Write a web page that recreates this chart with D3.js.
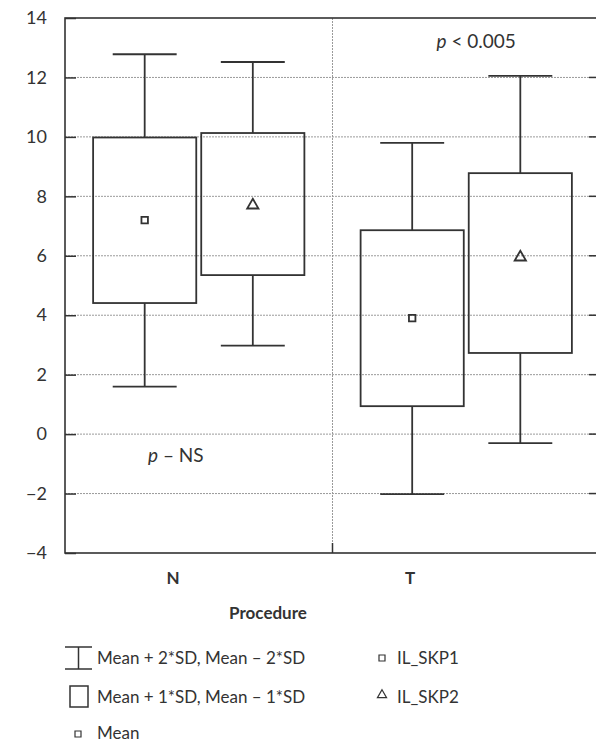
<!DOCTYPE html>
<html>
<head>
<meta charset="utf-8">
<script src="https://cdn.jsdelivr.net/npm/d3@7"></script>
<style>
  html, body { margin: 0; padding: 0; background: #fff; }
  svg { display: block; }
  text { font-family: Lato, "Open Sans", sans-serif; fill: #333; }
</style>
</head>
<body>
<svg id="chart" width="596" height="742"></svg>
<script>
// Procedure groups and the two series plotted in each
const procedures = ["N", "T"];
const seriesNames = ["IL_SKP1", "IL_SKP2"];

// Per procedure, per series: mean, mean ± 1 SD, mean ± 2 SD
const meanValues = { N: [7.2, 7.7],   T: [3.9, 5.95] };
const sd1Low     = { N: [4.41, 5.35], T: [0.94, 2.73] };
const sd1High    = { N: [9.98, 10.13], T: [6.86, 8.78] };
const sd2Low     = { N: [1.6, 2.98],  T: [-2.02, -0.3] };
const sd2High    = { N: [12.78, 12.52], T: [9.8, 12.05] };

const yTicks = [14, 12, 10, 8, 6, 4, 2, 0, -2, -4];
const pLabels = { N: "NS", T: "< 0.005" };

const svg = d3.select("#chart");
const ink = "#333";
const fs = 17;

const plot = { left: 65, top: 18, right: 600, bottom: 553 };

const y = d3.scaleLinear().domain([-4, 14]).range([plot.bottom, plot.top]);
const xGroup = d3.scaleBand().domain(procedures).range([plot.left, plot.right]);
const xSeries = d3.scaleBand().domain(seriesNames)
  .range([0, xGroup.bandwidth()]).paddingInner(0.046).paddingOuter(0.26);
const bw = xSeries.bandwidth();
const capW = bw * 0.62;

// Dotted grid lines
svg.append("g").selectAll("line")
  .data(yTicks.filter(t => t > -4 && t < 14))
  .join("line")
  .attr("x1", plot.left).attr("x2", plot.right)
  .attr("y1", d => y(d)).attr("y2", d => y(d))
  .attr("stroke", "#9a9a9a").attr("stroke-width", 1)
  .attr("stroke-dasharray", "2,1");

// Dotted divider between procedures
svg.append("line")
  .attr("x1", xGroup("T")).attr("x2", xGroup("T"))
  .attr("y1", plot.top).attr("y2", plot.bottom)
  .attr("stroke", "#9a9a9a").attr("stroke-width", 1)
  .attr("stroke-dasharray", "2,1");
svg.append("line")
  .attr("x1", xGroup("T")).attr("x2", xGroup("T"))
  .attr("y1", plot.bottom - 10).attr("y2", plot.bottom)
  .attr("stroke", ink).attr("stroke-width", 1.5);

// Y axis, ticks pointing inward
const yAxis = d3.axisLeft(y).tickValues(yTicks).tickSizeInner(-11).tickSizeOuter(0)
  .tickPadding(18).tickFormat(d => d < 0 ? "\u2212" + Math.abs(d) : d);
const gy = svg.append("g").attr("transform", `translate(${plot.left},0)`).call(yAxis);
gy.select(".domain").remove();
gy.selectAll(".tick line").attr("stroke", ink).attr("stroke-width", 1.5);
gy.selectAll(".tick text").attr("font-size", 18).attr("fill", ink)
  .style("font-family", "Lato, sans-serif");

// Right side inward ticks
svg.append("g").selectAll("line")
  .data(yTicks.filter(t => t > -4 && t < 14))
  .join("line")
  .attr("x1", plot.right - 11).attr("x2", plot.right)
  .attr("y1", d => y(d)).attr("y2", d => y(d))
  .attr("stroke", ink).attr("stroke-width", 1.5);

// Frame
svg.append("rect")
  .attr("x", plot.left).attr("y", plot.top)
  .attr("width", plot.right - plot.left).attr("height", plot.bottom - plot.top)
  .attr("fill", "none").attr("stroke", ink).attr("stroke-width", 1.6);

// Boxes, whiskers and mean markers
const items = [];
procedures.forEach(p => seriesNames.forEach((s, i) => items.push({
  p, s, i,
  mean: meanValues[p][i], lo1: sd1Low[p][i], hi1: sd1High[p][i],
  lo2: sd2Low[p][i], hi2: sd2High[p][i]
})));

const cx = d => xGroup(d.p) + xSeries(d.s) + bw / 2;

const g = svg.append("g").attr("stroke", ink).attr("stroke-width", 1.8).attr("fill", "none");
items.forEach(d => {
  const c = cx(d);
  // whisker stems
  g.append("line").attr("x1", c).attr("x2", c).attr("y1", y(d.hi2)).attr("y2", y(d.hi1));
  g.append("line").attr("x1", c).attr("x2", c).attr("y1", y(d.lo1)).attr("y2", y(d.lo2));
  // caps
  g.append("line").attr("x1", c - capW / 2).attr("x2", c + capW / 2).attr("y1", y(d.hi2)).attr("y2", y(d.hi2));
  g.append("line").attr("x1", c - capW / 2).attr("x2", c + capW / 2).attr("y1", y(d.lo2)).attr("y2", y(d.lo2));
  // SD box
  g.append("rect").attr("x", c - bw / 2).attr("y", y(d.hi1))
    .attr("width", bw).attr("height", y(d.lo1) - y(d.hi1));
  // mean marker
  const sym = d.i === 0 ? d3.symbolSquare : d3.symbolTriangle;
  const size = d.i === 0 ? 42 : 55;
  g.append("path").attr("d", d3.symbol(sym, size)())
    .attr("transform", `translate(${c},${y(d.mean)})`)
    .attr("stroke-width", 1.8);
});

// p-value annotations
function pText(xPos, yPos, rest) {
  const t = svg.append("text").attr("x", xPos).attr("y", yPos).attr("font-size", 19);
  t.append("tspan").attr("font-style", "italic").text("p");
  t.append("tspan").text(" " + rest);
}
pText(xGroup("T") + 104, y(13.0), pLabels.T);
pText(xGroup("N") + 83, y(-0.93), "\u2013 " + pLabels.N);

// Category labels and axis title
const catX = { N: 173, T: 410 };
svg.append("g").selectAll("text").data(procedures).join("text")
  .attr("x", d => catX[d]).attr("y", 584)
  .attr("text-anchor", "middle").attr("font-size", fs).attr("font-weight", "bold")
  .text(d => d);
svg.append("text").attr("x", 268).attr("y", 619)
  .attr("text-anchor", "middle").attr("font-size", fs).attr("font-weight", "bold")
  .text("Procedure");

// Legend
const leg = svg.append("g");
const legStroke = { stroke: ink, "stroke-width": 1.5, fill: "none" };
function applyAttrs(sel, a) { Object.entries(a).forEach(([k, v]) => sel.attr(k, v)); return sel; }

// whisker icon
applyAttrs(leg.append("line").attr("x1", 65).attr("x2", 92).attr("y1", 647).attr("y2", 647), legStroke);
applyAttrs(leg.append("line").attr("x1", 65).attr("x2", 92).attr("y1", 669).attr("y2", 669), legStroke);
applyAttrs(leg.append("line").attr("x1", 78.5).attr("x2", 78.5).attr("y1", 647).attr("y2", 669), legStroke);
leg.append("text").attr("x", 97).attr("y", 664).attr("font-size", fs).text("Mean + 2*SD, Mean \u2013 2*SD");

// box icon
applyAttrs(leg.append("rect").attr("x", 70).attr("y", 686).attr("width", 18).attr("height", 21), legStroke);
leg.append("text").attr("x", 97).attr("y", 703).attr("font-size", fs).text("Mean + 1*SD, Mean \u2013 1*SD");

// mean icon
applyAttrs(leg.append("path").attr("d", d3.symbol(d3.symbolSquare, 36)())
  .attr("transform", "translate(78,734)"), { ...legStroke, "stroke-width": 1.2 });
leg.append("text").attr("x", 97).attr("y", 739).attr("font-size", fs).text("Mean");

// series icons
applyAttrs(leg.append("path").attr("d", d3.symbol(d3.symbolSquare, 36)())
  .attr("transform", "translate(382,658)"), { ...legStroke, "stroke-width": 1.2 });
leg.append("text").attr("x", 397).attr("y", 664).attr("font-size", fs).text(seriesNames[0]);
applyAttrs(leg.append("path").attr("d", d3.symbol(d3.symbolTriangle, 36)())
  .attr("transform", "translate(382,695)"), { ...legStroke, "stroke-width": 1.2 });
leg.append("text").attr("x", 397).attr("y", 703).attr("font-size", fs).text(seriesNames[1]);
</script>
</body>
</html>
